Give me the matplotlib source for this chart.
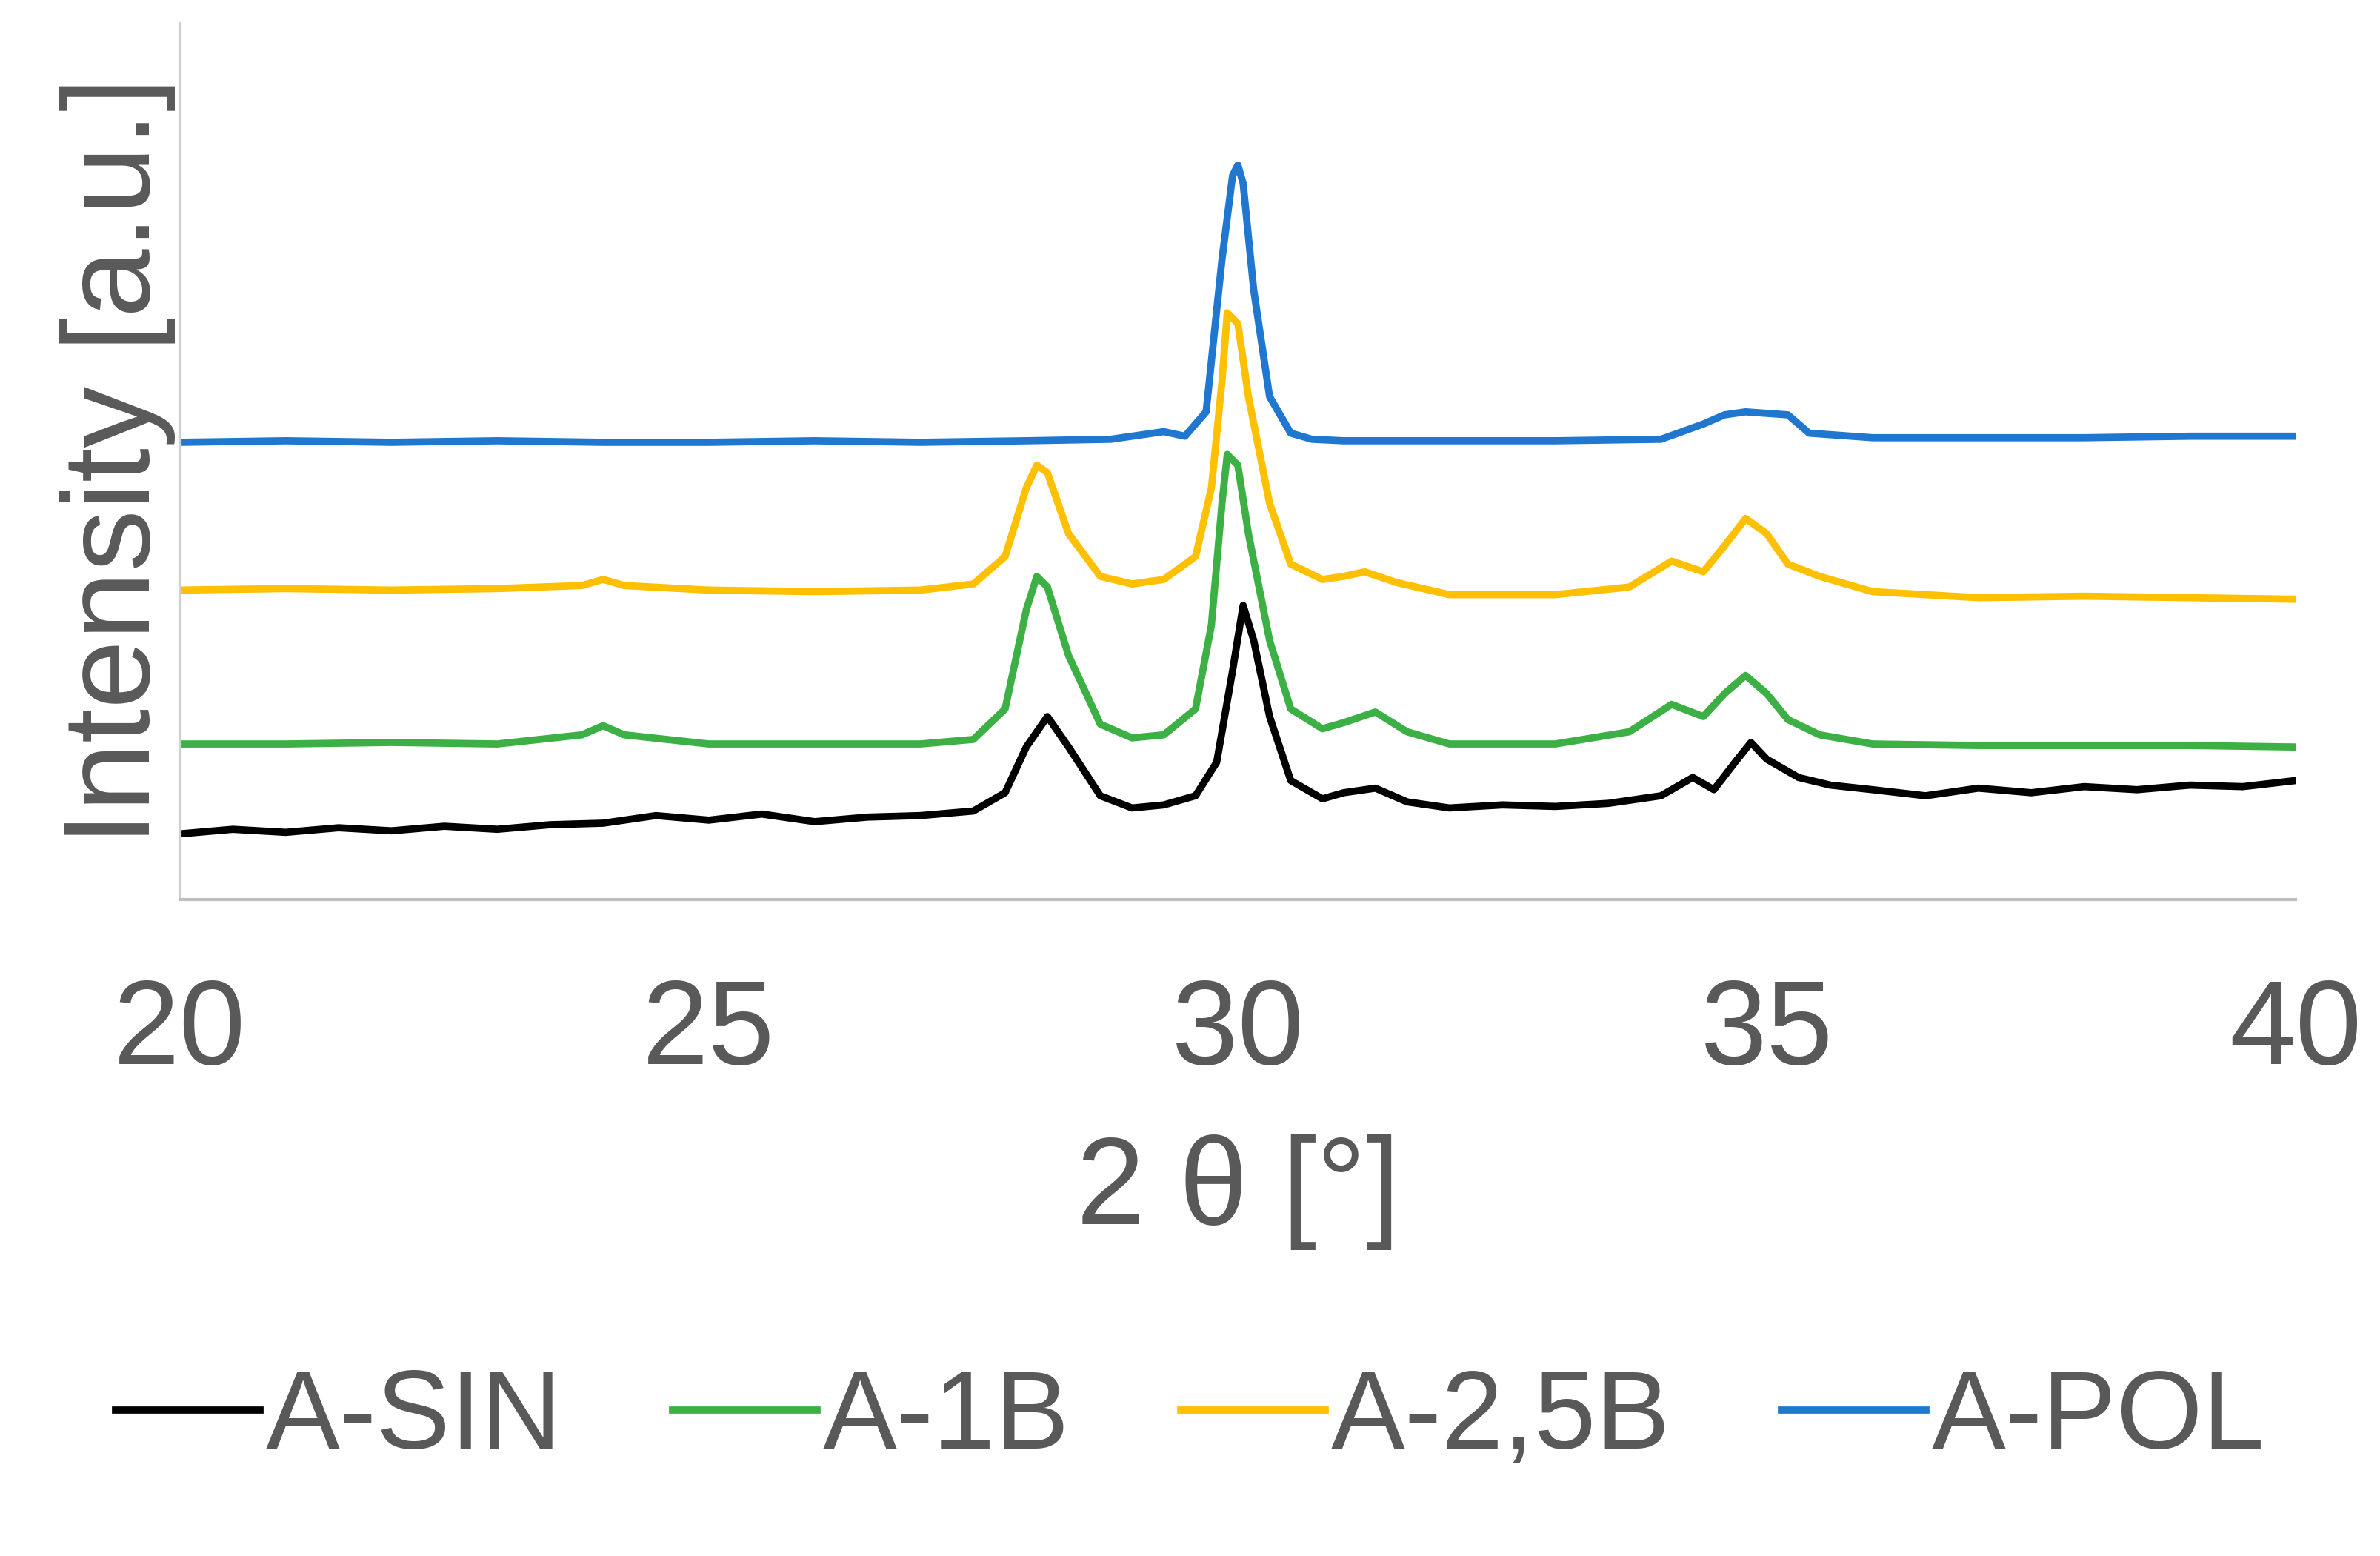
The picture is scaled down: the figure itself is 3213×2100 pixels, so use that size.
import matplotlib.pyplot as plt

plt.rcParams['font.family'] = ['Liberation Sans', 'DejaVu Sans']

# 2θ positions and intensities (arbitrary units)
x_pol = [20, 21, 22, 23, 24, 25, 26, 27, 28, 28.8, 29.1, 29.3, 29.5, 29.7, 29.85, 29.95, 30.0, 30.05, 30.15, 30.3, 30.5, 30.7,
         31, 32, 33, 34, 34.4, 34.6, 34.8, 35.0, 35.2, 35.4, 36, 37, 38, 39, 40]
y_pol = [300, 301, 300, 301, 300, 300, 301, 300, 301, 302, 305, 307, 304, 320, 420, 475, 482, 470, 400, 330, 306, 302,
         301, 301, 301, 302, 312, 318, 320, 319, 318, 306, 303, 303, 303, 304, 304]

x_25b = [20, 21, 22, 23, 23.8, 24.0, 24.2, 25, 26, 27, 27.5, 27.8, 28.0, 28.1, 28.2, 28.4, 28.7, 29.0, 29.3, 29.6,
         29.75, 29.85, 29.9, 30.0, 30.1, 30.3, 30.5, 30.8, 31.0, 31.2, 31.5, 32, 33, 33.7, 34.1, 34.4, 34.6, 34.8,
         35.0, 35.2, 35.5, 36, 37, 38, 39, 40]
y_25b = [203, 204, 203, 204, 206, 210, 206, 203, 202, 203, 207, 225, 270, 285, 280, 240, 212, 207, 210, 225,
         270, 340, 385, 378, 330, 260, 220, 210, 212, 215, 208, 200, 200, 205, 222, 215, 232, 250, 240, 220, 212,
         202, 198, 199, 198, 197]

x_1b = [20, 21, 22, 23, 23.8, 24.0, 24.2, 25, 26, 27, 27.5, 27.8, 28.0, 28.1, 28.2, 28.4, 28.7, 29.0, 29.3, 29.6,
        29.75, 29.85, 29.9, 30.0, 30.1, 30.3, 30.5, 30.8, 31.0, 31.3, 31.6, 32, 33, 33.7, 34.1, 34.4, 34.6, 34.8,
        35.0, 35.2, 35.5, 36, 37, 38, 39, 40]
y_1b = [102, 102, 103, 102, 108, 114, 108, 102, 102, 102, 105, 125, 190, 212, 205, 160, 115, 106, 108, 125,
        180, 260, 292, 285, 240, 170, 125, 112, 116, 123, 110, 102, 102, 110, 128, 120, 135, 147, 135, 118, 108,
        102, 101, 101, 101, 100]

x_sin = [20, 20.5, 21, 21.5, 22, 22.5, 23, 23.5, 24, 24.5, 25, 25.5, 26, 26.5, 27, 27.5, 27.8, 28.0, 28.2, 28.4,
         28.7, 29.0, 29.3, 29.6, 29.8, 29.95, 30.05, 30.15, 30.3, 30.5, 30.8, 31.0, 31.3, 31.6, 32, 32.5, 33, 33.5,
         34, 34.3, 34.5, 34.7, 34.85, 35.0, 35.3, 35.6, 36, 36.5, 37, 37.5, 38, 38.5, 39, 39.5, 40]
y_sin = [43, 46, 44, 47, 45, 48, 46, 49, 50, 55, 52, 56, 51, 54, 55, 58, 70, 100, 120, 100,
         68, 60, 62, 68, 90, 150, 193, 170, 120, 78, 66, 70, 73, 64, 60, 62, 61, 63,
         68, 80, 72, 90, 103, 92, 80, 75, 72, 68, 73, 70, 74, 72, 75, 74, 78]

names = ["A-SIN", "A-1B", "A-2,5B", "A-POL"]
colors = ["#000000", "#3cb044", "#ffc000", "#1f77d0"]
series = [(x_sin, y_sin), (x_1b, y_1b), (x_25b, y_25b), (x_pol, y_pol)]

gray = "#595959"
fig = plt.figure(figsize=(16.065, 10.5), dpi=200)
ax = fig.add_axes([0.0756, 0.422, 0.889, 0.563])

for (xs, ys), n, c in zip(series, names, colors):
    ax.plot(xs, ys, color=c, lw=3.5, label=n)

ax.set_xlim(20, 40)
ax.set_ylim(0, 575)
ax.set_xticks([20, 25, 30, 35, 40])
ax.set_yticks([])
ax.tick_params(axis="x", length=0, labelsize=58, labelcolor=gray, pad=38)
for s in ["top", "right"]:
    ax.spines[s].set_visible(False)
ax.spines["left"].set_color("#d0d0d0")
ax.spines["bottom"].set_color("#bfbfbf")
ax.spines["left"].set_linewidth(1.5)
ax.spines["bottom"].set_linewidth(1.5)

ax.set_xlabel("2 θ [°]", fontsize=60, color=gray, labelpad=22)
ax.set_ylabel("Intensity [a.u.]", fontsize=60, color=gray, labelpad=2)

fig.legend(loc="lower center", bbox_to_anchor=(0.5, -0.01), ncol=4, frameon=False,
           fontsize=54, labelcolor=gray, handlelength=1.3, handletextpad=0.05, columnspacing=1.0)

fig.savefig("out.png", dpi=200)
